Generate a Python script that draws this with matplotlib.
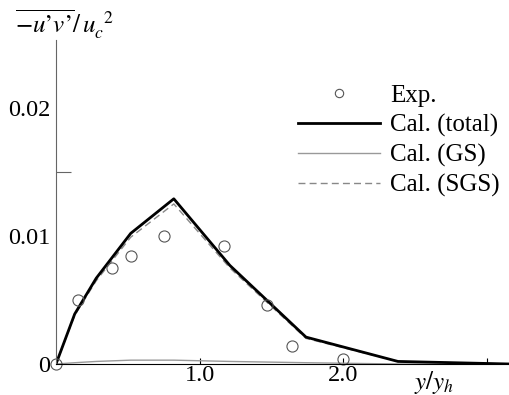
import numpy as np
import matplotlib
matplotlib.use("Agg")
import matplotlib.pyplot as plt
from matplotlib.lines import Line2D

# experimental points
exp_x = [0.0, 0.15, 0.39, 0.52, 0.75, 1.17, 1.47, 1.64, 2.0]
exp_y = [0.0, 0.0050, 0.0075, 0.0084, 0.0100, 0.0092, 0.0046, 0.0014, 0.0004]

# calculated profiles
cal_x = [0.0, 0.13, 0.28, 0.52, 0.82, 1.21, 1.74, 2.38, 3.16]
total_y = [0.0, 0.0039, 0.0067, 0.0102, 0.0129, 0.0077, 0.0021, 0.0002, 0.0]
sgs_y = [0.0, 0.0038, 0.0065, 0.0099, 0.0125, 0.0075, 0.0020, 0.0002, 0.0]
gs_y = [0.0, 0.0001, 0.0002, 0.0003, 0.0003, 0.0002, 0.0001, 0.0, 0.0]

ytick_vals = [0.0, 0.01, 0.02]
ytick_labels = ["0", "0.01", "0.02"]
xtick_vals = [1.0, 2.0]
xtick_labels = ["1.0", "2.0"]

plt.rcParams['font.family'] = 'Liberation Serif'
plt.rcParams['mathtext.fontset'] = 'stix'

fig = plt.figure(figsize=(5.10, 3.95), dpi=100)
ax = fig.add_axes([56 / 510, 31 / 395, 1 - 56 / 510, 324 / 395])

ax.plot(cal_x, gs_y, color='#999999', lw=1.0, label='Cal. (GS)')
ax.plot(cal_x, sgs_y, color='#888888', lw=1.0, ls=(0, (5, 3)), label='Cal. (SGS)')
ax.plot(cal_x, total_y, color='black', lw=2.0, label='Cal. (total)')
ax.plot(exp_x, exp_y, 'o', mfc='none', mec='#555555', ms=8, mew=0.8,
        clip_on=False, label='Exp.')

ax.set_xlim(0, 3.16)
ax.set_ylim(0, 0.0253)

for s in ['top', 'right']:
    ax.spines[s].set_visible(False)
ax.spines['left'].set_color('#666666')
ax.spines['left'].set_linewidth(0.8)
ax.spines['bottom'].set_linewidth(0.8)

ax.set_yticks(ytick_vals)
ax.set_yticklabels(ytick_labels, fontsize=17.5)
ax.tick_params(axis='y', which='major', length=0, pad=4)
ax.set_yticks([0.01, 0.015], minor=True)
ax.tick_params(axis='y', which='minor', direction='in', length=11, color='#666666', width=0.8)

ax.set_xticks(xtick_vals + [3.0])
ax.set_xticklabels(xtick_labels + [""], fontsize=17.5)
ax.tick_params(axis='x', direction='in', length=4, pad=1, width=0.8)

ax.text(2.63, -0.0004, r"$y/y_h$", fontsize=18, ha='center', va='top')
fig.text(15 / 510, 1 - 24 / 395, "$\\overline{-u\u2019v\u2019}/\\,u_c^{\\;\\;2}$", fontsize=18,
         ha='left', va='center')

handles = [
    Line2D([], [], ls='none', marker='o', mfc='none', mec='#555555', ms=6, mew=0.8),
    Line2D([], [], color='black', lw=2.0),
    Line2D([], [], color='#999999', lw=1.0),
    Line2D([], [], color='#888888', lw=1.0, ls=(0, (5, 3))),
]
labels = ['Exp.', 'Cal. (total)', 'Cal. (GS)', 'Cal. (SGS)']
fig.legend(handles, labels, loc='upper left', bbox_to_anchor=(285 / 510, 1 - 72 / 395),
           frameon=False, fontsize=18, handlelength=3.3, handletextpad=0.4,
           labelspacing=0.28, borderpad=0)

fig.savefig('out.png', dpi=100)
